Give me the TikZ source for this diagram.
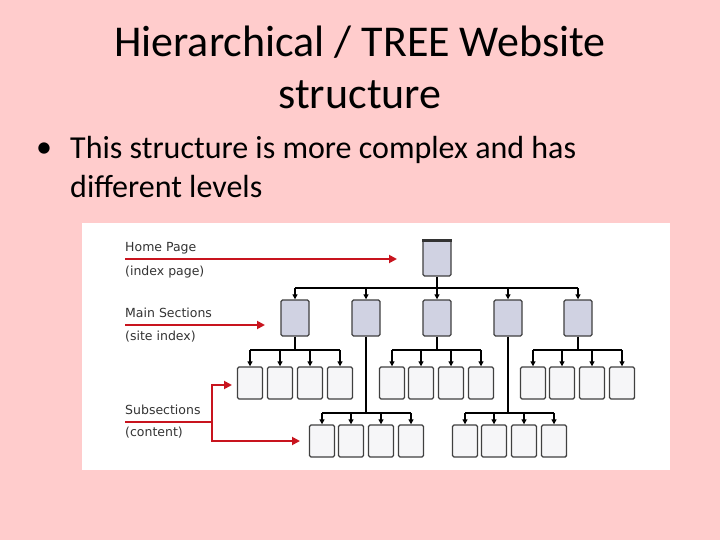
\documentclass[tikz,border=0pt]{standalone}
\usepackage{fontspec}
\setmainfont{Carlito}
\newfontfamily\labelfont{DejaVu Sans}
\usetikzlibrary{arrows.meta}
\definecolor{slidebg}{RGB}{255,204,204}
\definecolor{mainfill}{RGB}{208,210,226}
\definecolor{subfill}{RGB}{246,246,248}
\definecolor{arrowred}{RGB}{200,20,30}
\tikzset{
  page/.style={draw=black!75, line width=1.4pt, rounded corners=1.5pt, fill=subfill, minimum width=25pt, minimum height=32pt, inner sep=0pt},
  mainpage/.style={page, fill=mainfill, minimum width=28pt, minimum height=36pt},
  link/.style={line width=1.5pt, -{Triangle[length=5pt,width=5pt]}},
  pointer/.style={arrowred, line width=1.8pt, -{Triangle[length=8pt,width=8pt]}},
  lbl/.style={anchor=west, font=\labelfont\fontsize{12.5}{14}\selectfont, text=black!80, inner sep=0pt}
}
\begin{document}
\begin{tikzpicture}[x=1pt,y=-1pt]
    \useasboundingbox[fill=slidebg] (0,0) rectangle (720,540);
    \node (title1) at (360,42) {\fontsize{44}{48}\selectfont Hierarchical / TREE Website};
    \node (title2) at (360,95) {\fontsize{44}{48}\selectfont structure};
    \node (dot) at (44,150) {\fontsize{32}{36}\selectfont\textbullet};
    \node[anchor=west, inner sep=0pt] (bullet) at (70,150) {\fontsize{32}{36}\selectfont This structure is more complex and has};
    \node[anchor=west, inner sep=0pt] (bullet2) at (70,187) {\fontsize{32}{36}\selectfont different levels};

    \fill[white] (82,223) rectangle (670,470);

    % pages
    \node[mainpage] (home) at (437,258) {};
    \fill[black!80] (home.north west) rectangle ([yshift=-3pt]home.north east);
    \foreach \x [count=\i] in {295,366,437,508,578}
        \node[mainpage] (m\i) at (\x,318) {};
    \foreach \x [count=\i] in {250,280,310,340} \node[page] (a\i) at (\x,383) {};
    \foreach \x [count=\i] in {392,421,451,481} \node[page] (c\i) at (\x,383) {};
    \foreach \x [count=\i] in {533,562,592,622} \node[page] (e\i) at (\x,383) {};
    \foreach \x [count=\i] in {322,351,381,411} \node[page] (b\i) at (\x,441) {};
    \foreach \x [count=\i] in {465,494,524,554} \node[page] (d\i) at (\x,441) {};

    % tree links
    \draw[line width=1.5pt] (home.south) -- (437,288);
    \draw[line width=1.5pt] (295,288) -- (578,288);
    \foreach \i in {1,...,5} \draw[link] (m\i.north |- 0,288) -- (m\i.north);
    \foreach \p/\g in {m1/a, m3/c, m5/e} {
        \draw[line width=1.5pt] (\p.south) -- (\p.south |- 0,350);
        \draw[line width=1.5pt] (\g1.north |- 0,350) -- (\g4.north |- 0,350);
        \foreach \i in {1,...,4} \draw[link] (\g\i.north |- 0,350) -- (\g\i.north);
    }
    \foreach \p/\g in {m2/b, m4/d} {
        \draw[line width=1.5pt] (\p.south) -- (\p.south |- 0,413);
        \draw[line width=1.5pt] (\g1.north |- 0,413) -- (\g4.north |- 0,413);
        \foreach \i in {1,...,4} \draw[link] (\g\i.north |- 0,413) -- (\g\i.north);
    }

    % labels
    \node[lbl] (lhome) at (125,248) {Home Page};
    \node[lbl] at (125,272) {(index page)};
    \node[lbl] (lmain) at (125,313) {Main Sections};
    \node[lbl] at (125,337) {(site index)};
    \node[lbl] (lsub) at (125,410) {Subsections};
    \node[lbl] at (125,433) {(content)};
    \coordinate (fork) at (212,422);
    \draw[pointer] (125,259) -- (397,259);
    \draw[pointer] (125,325) -- (265,325);
    \draw[arrowred, line width=1.8pt] (125,422) -- (fork);
    \draw[pointer] (fork) |- (232,385);
    \draw[pointer] (fork) |- (300,441);
\end{tikzpicture}
\end{document}
